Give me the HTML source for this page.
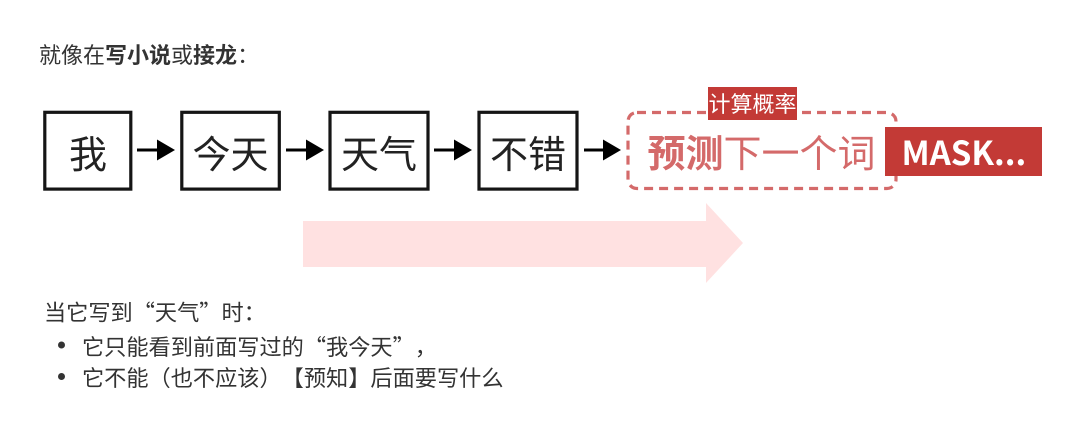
<!DOCTYPE html>
<html lang="zh"><head><meta charset="utf-8"><style>
html,body{margin:0;padding:0;background:#fff}
body{width:1080px;height:432px;overflow:hidden;position:relative}
svg{position:absolute;left:0;top:0}
text{font-family:"Noto Sans CJK SC",sans-serif;text-spacing-trim:space-all;font-kerning:none;font-feature-settings:"palt" 0,"kern" 0,"chws" 0,"halt" 0}
</style></head><body>
<svg width="1080" height="432" viewBox="0 0 1080 432">
<rect width="1080" height="432" fill="#fff"/>
<text x="39" y="63" font-size="22" fill="#333">就像在<tspan font-weight="700">写小说</tspan>或<tspan font-weight="700">接龙</tspan>：</text>
<g fill="#fff" stroke="#151515" stroke-width="3.2">
<rect x="44.800" y="112.300" width="86" height="76.800"/>
<rect x="181.800" y="112.300" width="97.500" height="76.800"/>
<rect x="330" y="112.300" width="98" height="76.800"/>
<rect x="479" y="112.300" width="98" height="76.800"/>
</g>
<g font-size="38" fill="#222" text-anchor="middle">
<text x="88" y="168">我</text>
<text x="230.500" y="168">今天</text>
<text x="379" y="168">天气</text>
<text x="528" y="168">不错</text>
</g>
<g fill="#000" stroke="#000">
<path d="M137 150H160" stroke-width="3"/><path d="M157 139.500L175 150L157 160.500Z" stroke="none"/>
<path d="M286 150H308" stroke-width="3"/><path d="M306 139.500L324 150L306 160.500Z" stroke="none"/>
<path d="M434 150H456" stroke-width="3"/><path d="M454 139.500L472 150L454 160.500Z" stroke="none"/>
<path d="M584 150H605" stroke-width="3"/><path d="M603 139.500L621 150L603 160.500Z" stroke="none"/>
</g>
<rect x="628" y="112.500" width="268" height="76" rx="9" fill="none" stroke="#d46a6a" stroke-width="3.200" stroke-dasharray="9 6"/>
<path d="M303 221H706V203L743 243L706 283V267H303Z" fill="#ffe1e1"/>
<rect x="708" y="87" width="89" height="33" fill="#c33a36"/>
<text x="752.500" y="112" font-size="22" fill="#fff" text-anchor="middle">计算概率</text>
<text x="647.500" y="167" font-size="38" fill="#d46a6a"><tspan font-weight="700">预测</tspan>下一个词</text>
<rect x="885" y="127" width="157" height="49" fill="#c33a36"/>
<text x="901.500" y="165" font-size="33" font-weight="700" fill="#fff">MASK...</text>
<g font-size="22.200" fill="#333">
<text x="44" y="320.500">当它写到“天气”时：</text>
<circle cx="61.500" cy="345" r="3.500"/>
<text x="82" y="355">它只能看到前面写过的“我今天”，</text>
<circle cx="61.500" cy="376.500" r="3.500"/>
<text x="82" y="386">它不能（也不应该）【预知】后面要写什么</text>
</g>
</svg>
</body></html>
